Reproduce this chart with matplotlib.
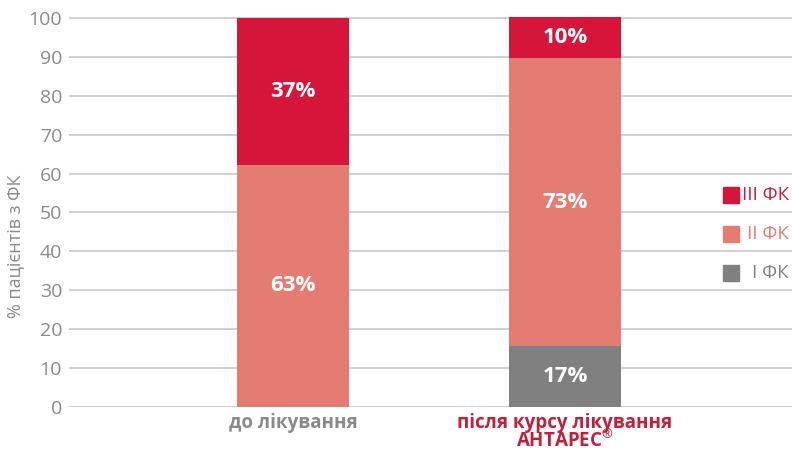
import matplotlib.pyplot as plt
from matplotlib.patches import Rectangle

# ---------- Data ----------
categories = ["до лікування", "після курсу лікування\nАНТАРЕС$^{\\circledR}$"]
series_names = ["I ФК", "II ФК", "III ФК"]
heights_I = [0.0, 15.7]
heights_II = [62.2, 73.9]
heights_III = [37.8, 10.7]
labels_I = ["", "17%"]
labels_II = ["63%", "73%"]
labels_III = ["37%", "10%"]
yticks = [0, 10, 20, 30, 40, 50, 60, 70, 80, 90, 100]

# ---------- Style ----------
RED = "#d6153a"
PINK = "#e57c71"
GRAY = "#808080"
TEXT_GRAY = "#8a8a8a"
LABEL_RED = "#c41e3a"
colors = [GRAY, PINK, RED]

plt.rcParams["font.family"] = ["Open Sans", "DejaVu Sans"]
plt.rcParams["mathtext.fontset"] = "custom"
plt.rcParams["mathtext.rm"] = "Open Sans"
plt.rcParams["mathtext.bf"] = "Open Sans:bold"

fig = plt.figure(figsize=(7.92, 4.53), dpi=100)
ax = fig.add_axes([69 / 792, 46 / 453, 1 - 69 / 792, (407 - 14) / 453])

x = [0, 1]
width = 0.41
bottom = [0.0, 0.0]
for vals, labs, col in zip([heights_I, heights_II, heights_III],
                           [labels_I, labels_II, labels_III], colors):
    ax.bar(x, vals, width, bottom=bottom, color=col, zorder=3)
    for xi, v, b, lab in zip(x, vals, bottom, labs):
        if lab:
            ax.text(xi, b + v / 2, lab, ha="center", va="center",
                    color="white", fontsize=16, fontweight="bold", zorder=4)
    bottom = [b + v for b, v in zip(bottom, vals)]

ax.set_xlim(-0.824, 1.835)
ax.set_ylim(0, 101)
ax.set_yticks(yticks)
ax.set_yticklabels([str(t) for t in yticks], fontsize=14, color=TEXT_GRAY)
ax.tick_params(axis="y", length=0, pad=5)
ax.set_xticks(x)
ax.set_xticklabels(categories, fontsize=13.5, fontweight="bold", linespacing=0.88)
ax.get_xticklabels()[0].set_color(TEXT_GRAY)
ax.get_xticklabels()[1].set_color(LABEL_RED)
ax.tick_params(axis="x", length=0, pad=4)
for lab in ax.get_xticklabels():
    lab.set_verticalalignment("top")

ax.grid(axis="y", color="#cfcfcf", linewidth=1.4, zorder=0)
for s in ax.spines.values():
    s.set_visible(False)

ax.set_ylabel("% пацієнтів з ФК", fontsize=13, color=TEXT_GRAY)
ax.yaxis.set_label_coords(-0.062, 0.41)

# ---------- Legend (manual, right aligned text) ----------
legend_rows = [("III ФК", RED, LABEL_RED, 195), ("II ФК", PINK, PINK, 234),
               ("I ФК", GRAY, GRAY, 273)]
for name, col, tcol, ypix in legend_rows:
    yf = 1 - ypix / 453
    fig.patches.append(Rectangle((723 / 792, yf - 8 / 453), 16 / 792, 16 / 453,
                                 transform=fig.transFigure, color=col, zorder=5))
    fig.text(789 / 792, yf, name, ha="right", va="center", fontsize=13.5, color=tcol)

fig.savefig("out.png", dpi=100)
